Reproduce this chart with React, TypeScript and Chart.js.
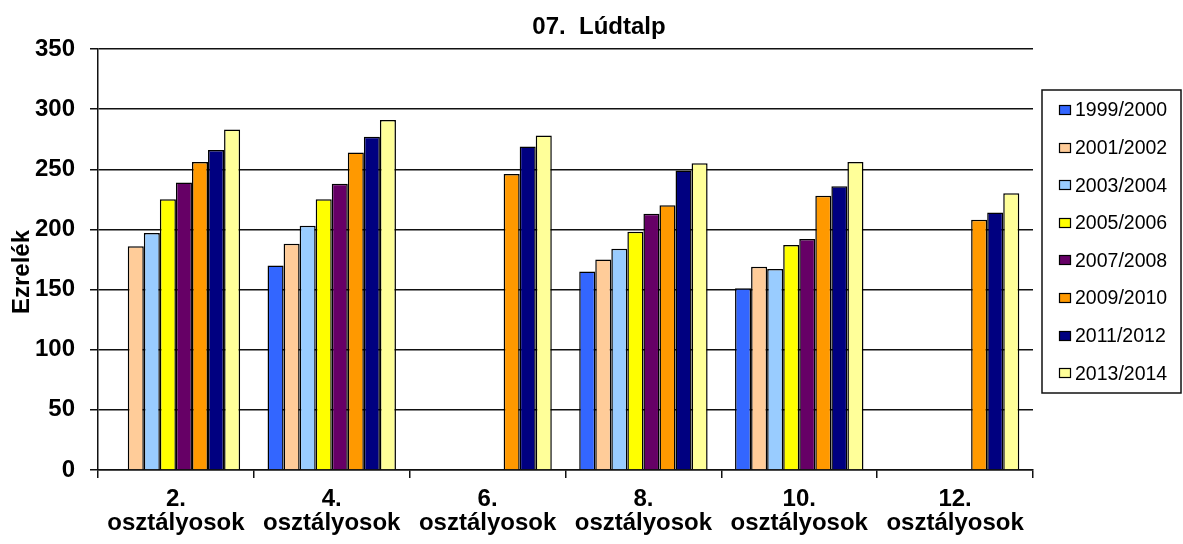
import React, { useEffect, useRef } from "react";
import { Chart, registerables } from "chart.js";

Chart.register(...registerables);

const chartTitle = "07.  Lúdtalp";
const yAxisTitle = "Ezrelék";
const categories = [
  ["2.", "osztályosok"],
  ["4.", "osztályosok"],
  ["6.", "osztályosok"],
  ["8.", "osztályosok"],
  ["10.", "osztályosok"],
  ["12.", "osztályosok"],
];
const seriesLabels = [
  "1999/2000",
  "2001/2002",
  "2003/2004",
  "2005/2006",
  "2007/2008",
  "2009/2010",
  "2011/2012",
  "2013/2014",
];
const s1999 = [null, 170, null, 165, 151, null];
const s2001 = [186, 188, null, 175, 169, null];
const s2003 = [197, 203, null, 184, 167, null];
const s2005 = [225, 225, null, 198, 187, null];
const s2007 = [239, 238, null, 213, 192, null];
const s2009 = [256, 264, 246, 220, 228, 208];
const s2011 = [266, 277, 269, 249, 236, 214];
const s2013 = [283, 291, 278, 255, 256, 230];
const seriesValues = [s1999, s2001, s2003, s2005, s2007, s2009, s2011, s2013];
const seriesColors = [
  "#3366FF",
  "#FFCC99",
  "#99CCFF",
  "#FFFF00",
  "#660066",
  "#FF9900",
  "#000080",
  "#FFFF99",
];
const yMin = 0;
const yMax = 350;
const yStep = 50;

const FONT = "'Liberation Sans', Arial, Helvetica, sans-serif";
const LINE = "#111";

const decorPlugin = {
  id: "decor",
  afterDraw(chart: any) {
    const ctx = chart.ctx as CanvasRenderingContext2D;
    ctx.save();
    // Title
    ctx.fillStyle = "#000";
    ctx.font = `bold 24px ${FONT}`;
    ctx.textAlign = "center";
    ctx.textBaseline = "middle";
    ctx.fillText(chartTitle, 599, 27);
    // Y axis title
    ctx.save();
    ctx.translate(22, 272);
    ctx.rotate(-Math.PI / 2);
    ctx.font = `bold 24px ${FONT}`;
    ctx.fillText(yAxisTitle, 0, 0);
    ctx.restore();
    // Legend
    const bx = 1042, by = 90, bw = 139, bh = 303;
    ctx.strokeStyle = LINE;
    ctx.lineWidth = 1.5;
    ctx.strokeRect(bx, by, bw, bh);
    ctx.font = `19.5px ${FONT}`;
    ctx.textAlign = "left";
    ctx.textBaseline = "middle";
    const ds = chart.data.datasets;
    for (let i = 0; i < ds.length; i++) {
      const cy = 110 + i * 37.6;
      const top = Math.round(cy - 5);
      ctx.fillStyle = ds[i].backgroundColor;
      ctx.fillRect(1059, top, 12, 10);
      ctx.strokeStyle = "#000";
      ctx.lineWidth = 1.2;
      ctx.strokeRect(1059.5, top + 0.5, 11, 9);
      ctx.fillStyle = "#000";
      ctx.fillText(ds[i].label, 1075, cy + 1);
    }
    ctx.restore();
  },
};

export default function App() {
  const ref = useRef<HTMLCanvasElement>(null);
  useEffect(() => {
    document.body.style.margin = "0";
    const canvas = ref.current!;
    const chart = new Chart(canvas, {
      type: "bar",
      data: {
        labels: categories as any,
        datasets: seriesLabels.map((label, i) => ({
          label,
          data: seriesValues[i] as any,
          backgroundColor: seriesColors[i],
          borderColor: "#000",
          borderWidth: 1.5,
          categoryPercentage: 0.824,
          barPercentage: 1,
        })),
      },
      options: {
        responsive: false,
        animation: false,
        devicePixelRatio: 1,
        layout: { padding: { top: 49, right: 150, left: 0, bottom: 0 } },
        plugins: {
          legend: { display: false },
          title: { display: false },
          tooltip: { enabled: false },
        },
        scales: {
          x: {
            grid: {
              display: true,
              drawOnChartArea: false,
              drawTicks: true,
              tickLength: 8,
              color: LINE,
              lineWidth: 1.5,
              offset: true,
            },
            border: { display: true, color: LINE, width: 1.5 },
            ticks: {
              color: "#000",
              font: { family: FONT, size: 24, weight: "bold", lineHeight: 1.0 },
              padding: 9,
              maxRotation: 0,
              autoSkip: false,
            },
            afterFit: (s: any) => {
              s.height = 74;
            },
          },
          y: {
            min: yMin,
            max: yMax,
            ticks: {
              stepSize: yStep,
              color: "#000",
              font: { family: FONT, size: 24, weight: "bold" },
              padding: 15,
            },
            grid: {
              color: LINE,
              lineWidth: 1.5,
              tickLength: 8,
              drawTicks: true,
            },
            border: { display: true, color: LINE, width: 1.5 },
            afterFit: (s: any) => {
              s.width = 98;
            },
          },
        },
      },
      plugins: [decorPlugin],
    });
    return () => chart.destroy();
  }, []);
  return (
    <div style={{ position: "fixed", left: 0, top: 0, width: 1183, height: 544, background: "#fff" }}>
      <canvas ref={ref} width={1183} height={544} style={{ width: 1183, height: 544, display: "block" }} />
    </div>
  );
}
